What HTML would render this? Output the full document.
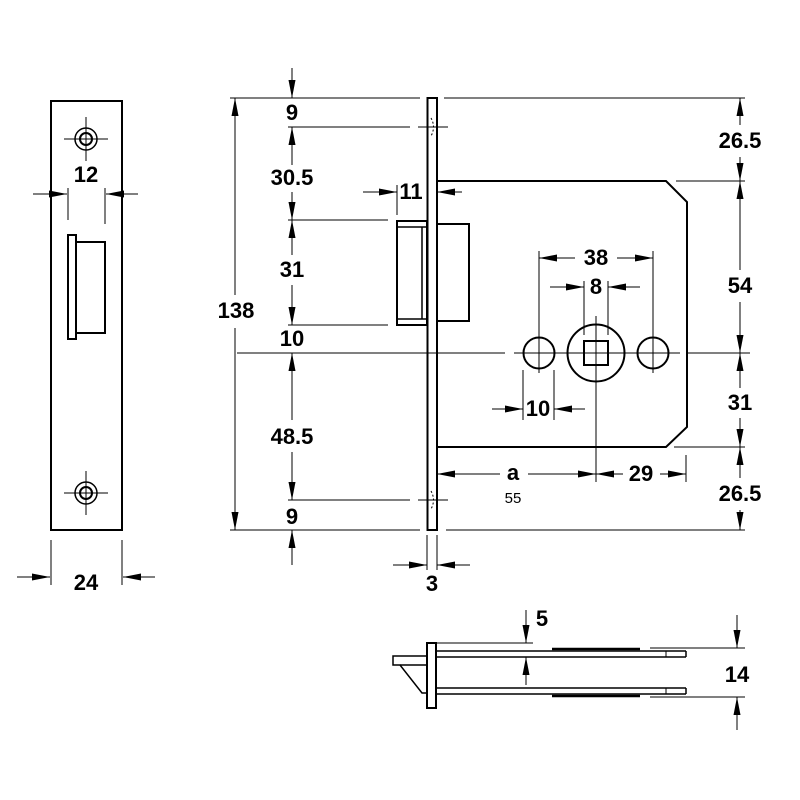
<!DOCTYPE html>
<html><head><meta charset="utf-8"><style>
html,body{margin:0;padding:0;background:#fff}
svg{display:block}
text{font-family:"Liberation Sans",Arial,sans-serif;font-weight:bold;font-size:22px;fill:#000;text-anchor:middle}
</style></head><body>
<svg width="800" height="800" viewBox="0 0 800 800" xmlns="http://www.w3.org/2000/svg">
<defs>
<marker id="m" markerUnits="userSpaceOnUse" markerWidth="20" markerHeight="10" refX="18" refY="3.5" orient="auto-start-reverse">
<path d="M0,0 L18,3.5 L0,7 z" fill="#000"/>
</marker>
</defs>
<g fill="none" stroke="#000">
<!-- left view -->
<rect x="51" y="101" width="71" height="429" stroke-width="2"/>
<circle cx="86" cy="139" r="11" stroke-width="1.5"/><circle cx="86" cy="139" r="6" stroke-width="2"/>
<line x1="64" y1="139" x2="108" y2="139" stroke-width="1"/><line x1="86" y1="117" x2="86" y2="161" stroke-width="1"/>
<circle cx="86" cy="493" r="11" stroke-width="1.5"/><circle cx="86" cy="493" r="6" stroke-width="2"/>
<line x1="64" y1="493" x2="108" y2="493" stroke-width="1"/><line x1="86" y1="471" x2="86" y2="515" stroke-width="1"/>
<rect x="68" y="235" width="8" height="104" stroke-width="2"/>
<rect x="76" y="242" width="29" height="91" stroke-width="2"/>
<g stroke-width="1">
<line x1="68" y1="188" x2="68" y2="220"/><line x1="105" y1="188" x2="105" y2="224"/>
<line x1="33" y1="194" x2="67" y2="194" marker-end="url(#m)"/>
<line x1="138" y1="194" x2="106" y2="194" marker-end="url(#m)"/>
<line x1="51" y1="540" x2="51" y2="585"/><line x1="122" y1="540" x2="122" y2="585"/>
<line x1="17" y1="577" x2="50" y2="577" marker-end="url(#m)"/>
<line x1="155" y1="577" x2="123" y2="577" marker-end="url(#m)"/>
</g>

<!-- main view -->
<rect x="427.5" y="98" width="9.5" height="432" stroke-width="2"/>
<path d="M437,181 L666,181 L687,202 L687,427 L666,447 L437,447" stroke-width="2"/>
<rect x="397" y="221" width="30" height="104" stroke-width="2"/>
<line x1="397" y1="227" x2="427" y2="227" stroke-width="1.5"/>
<line x1="397" y1="319" x2="427" y2="319" stroke-width="1.5"/>
<line x1="422" y1="227" x2="422" y2="319" stroke-width="1.5"/>
<rect x="437" y="224" width="32" height="97" stroke-width="2"/>
<circle cx="539" cy="353" r="15.5" stroke-width="2"/>
<circle cx="596" cy="353" r="28.5" stroke-width="2"/>
<rect x="584" y="341" width="24" height="24" stroke-width="2"/>
<circle cx="653" cy="353" r="15.5" stroke-width="2"/>
<g stroke-width="1">
<line x1="230" y1="98" x2="420" y2="98"/><line x1="444" y1="98" x2="745" y2="98"/>
<line x1="230" y1="530" x2="420" y2="530"/><line x1="446" y1="530" x2="745" y2="530"/>
<line x1="288" y1="127" x2="410" y2="127"/><line x1="418" y1="127" x2="448" y2="127"/>
<line x1="288" y1="500" x2="410" y2="500"/><line x1="418" y1="500" x2="448" y2="500"/>
<line x1="288" y1="220" x2="388" y2="220"/><line x1="288" y1="325" x2="388" y2="325"/>
<line x1="237" y1="353" x2="505" y2="353"/><line x1="514" y1="353" x2="680" y2="353"/><line x1="687" y1="353" x2="750" y2="353"/>
<line x1="676" y1="181" x2="745" y2="181"/><line x1="674" y1="447" x2="745" y2="447"/>
<line x1="539" y1="251" x2="539" y2="373"/><line x1="653" y1="251" x2="653" y2="373"/>
<line x1="584" y1="281" x2="584" y2="335"/><line x1="608" y1="281" x2="608" y2="335"/>
<line x1="596" y1="316" x2="596" y2="482"/>
<line x1="523" y1="370" x2="523" y2="420"/><line x1="554" y1="370" x2="554" y2="420"/>
<line x1="686" y1="455" x2="686" y2="482"/>
<line x1="397" y1="185" x2="397" y2="215"/>
<line x1="427" y1="535" x2="427" y2="570"/><line x1="437" y1="535" x2="437" y2="570"/>
<path d="M431,118 Q436,127 431,136" stroke-dasharray="2,2"/>
<path d="M431,491 Q436,500 431,509" stroke-dasharray="2,2"/>
<line x1="235" y1="295" x2="235" y2="98" marker-end="url(#m)"/>
<line x1="235" y1="328" x2="235" y2="530" marker-end="url(#m)"/>
<line x1="292" y1="68" x2="292" y2="98" marker-end="url(#m)"/>
<line x1="292" y1="165" x2="292" y2="127" marker-end="url(#m)"/>
<line x1="292" y1="192" x2="292" y2="220" marker-end="url(#m)"/>
<line x1="292" y1="255" x2="292" y2="220" marker-end="url(#m)"/>
<line x1="292" y1="285" x2="292" y2="325" marker-end="url(#m)"/>
<line x1="292" y1="420" x2="292" y2="353" marker-end="url(#m)"/>
<line x1="292" y1="452" x2="292" y2="500" marker-end="url(#m)"/>
<line x1="292" y1="565" x2="292" y2="530" marker-end="url(#m)"/>
<line x1="740" y1="125" x2="740" y2="98" marker-end="url(#m)"/>
<line x1="740" y1="157" x2="740" y2="181" marker-end="url(#m)"/>
<line x1="740" y1="270" x2="740" y2="181" marker-end="url(#m)"/>
<line x1="740" y1="302" x2="740" y2="353" marker-end="url(#m)"/>
<line x1="740" y1="388" x2="740" y2="353" marker-end="url(#m)"/>
<line x1="740" y1="418" x2="740" y2="447" marker-end="url(#m)"/>
<line x1="740" y1="478" x2="740" y2="447" marker-end="url(#m)"/>
<line x1="740" y1="510" x2="740" y2="530" marker-end="url(#m)"/>
<line x1="575" y1="258" x2="539" y2="258" marker-end="url(#m)"/>
<line x1="617" y1="258" x2="653" y2="258" marker-end="url(#m)"/>
<line x1="550" y1="287" x2="584" y2="287" marker-end="url(#m)"/>
<line x1="640" y1="287" x2="608" y2="287" marker-end="url(#m)"/>
<line x1="492" y1="409" x2="523" y2="409" marker-end="url(#m)"/>
<line x1="585" y1="409" x2="554" y2="409" marker-end="url(#m)"/>
<line x1="500" y1="474" x2="437" y2="474" marker-end="url(#m)"/>
<line x1="528" y1="474" x2="596" y2="474" marker-end="url(#m)"/>
<line x1="623" y1="474" x2="596" y2="474" marker-end="url(#m)"/>
<line x1="660" y1="474" x2="686" y2="474" marker-end="url(#m)"/>
<line x1="363" y1="192" x2="397" y2="192" marker-end="url(#m)"/>
<line x1="462" y1="192" x2="437" y2="192" marker-end="url(#m)"/>
<line x1="393" y1="565" x2="427" y2="565" marker-end="url(#m)"/>
<line x1="470" y1="565" x2="437" y2="565" marker-end="url(#m)"/>
</g>

<!-- bottom view -->
<rect x="427" y="643" width="9" height="65" stroke-width="2"/>
<path d="M427,656 L393,656 L393,665 L400,665 L422,693 L427,693" stroke-width="1.5"/>
<line x1="400" y1="665" x2="427" y2="665" stroke-width="1.5"/>
<line x1="436" y1="651" x2="686" y2="651" stroke-width="1.5"/>
<line x1="436" y1="657" x2="686" y2="657" stroke-width="1.5"/>
<line x1="436" y1="688" x2="686" y2="688" stroke-width="1.5"/>
<line x1="436" y1="694" x2="686" y2="694" stroke-width="1.5"/>
<line x1="686" y1="651" x2="686" y2="657" stroke-width="1.5"/>
<line x1="686" y1="688" x2="686" y2="694" stroke-width="1.5"/>
<line x1="666" y1="651" x2="666" y2="657" stroke-width="1"/>
<line x1="666" y1="688" x2="666" y2="694" stroke-width="1"/>
<line x1="552" y1="649" x2="640" y2="649" stroke-width="2.5"/>
<line x1="552" y1="696" x2="640" y2="696" stroke-width="2.5"/>
<g stroke-width="1">
<line x1="436" y1="643" x2="533" y2="643"/>
<line x1="650" y1="648" x2="745" y2="648"/>
<line x1="650" y1="697" x2="745" y2="697"/>
<line x1="526" y1="610" x2="526" y2="643" marker-end="url(#m)"/>
<line x1="526" y1="685" x2="526" y2="657" marker-end="url(#m)"/>
<line x1="737" y1="615" x2="737" y2="648" marker-end="url(#m)"/>
<line x1="737" y1="730" x2="737" y2="697" marker-end="url(#m)"/>
</g>
</g>
<text x="86" y="182">12</text>
<text x="86" y="590">24</text>
<text x="236" y="318">138</text>
<text x="292" y="120">9</text>
<text x="292" y="185">30.5</text>
<text x="292" y="277">31</text>
<text x="292" y="346">10</text>
<text x="292" y="444">48.5</text>
<text x="292" y="524">9</text>
<text x="411" y="199">11</text>
<text x="432" y="591">3</text>
<text x="596" y="265">38</text>
<text x="596" y="294">8</text>
<text x="538" y="416">10</text>
<text x="513" y="480">a</text>
<text x="513" y="503" style="font-size:15px;font-weight:normal">55</text>
<text x="641" y="481">29</text>
<text x="740" y="148">26.5</text>
<text x="740" y="293">54</text>
<text x="740" y="410">31</text>
<text x="740" y="501">26.5</text>
<text x="542" y="626">5</text>
<text x="737" y="682">14</text>
</svg>
</body></html>
